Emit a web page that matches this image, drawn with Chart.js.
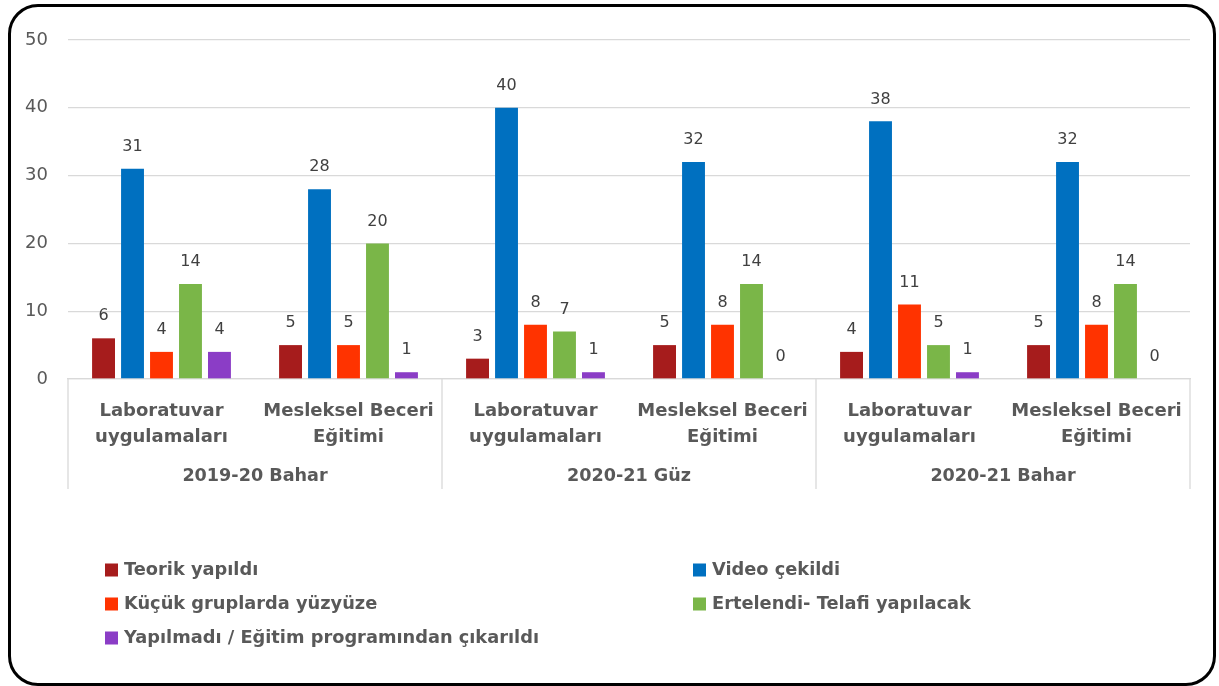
<!DOCTYPE html>
<html>
<head>
<meta charset="utf-8">
<script src="https://cdn.jsdelivr.net/npm/chart.js@4"></script>
<style>
    html, body { margin: 0; padding: 0; background: #fff; }
    #wrap { position: relative; width: 1219px; height: 686px; }
    #frame {
        position: absolute; left: 8px; top: 4px; width: 1208px; height: 682px;
        border: 3px solid #000; border-radius: 30px; box-sizing: border-box;
    }
    #chart { position: absolute; left: 0; top: 0; }
</style>
</head>
<body>
<div id="wrap">
    <div id="frame"></div>
    <canvas id="chart" width="1219" height="686"></canvas>
</div>
<script>
const categories = [
    ["Laboratuvar", "uygulamaları"], ["Mesleksel Beceri", "Eğitimi"],
    ["Laboratuvar", "uygulamaları"], ["Mesleksel Beceri", "Eğitimi"],
    ["Laboratuvar", "uygulamaları"], ["Mesleksel Beceri", "Eğitimi"],
];
const terms = ["2019-20 Bahar", "2020-21 Güz", "2020-21 Bahar"];
const seriesNames = [
    "Teorik yapıldı",
    "Video çekildi",
    "Küçük gruplarda yüzyüze",
    "Ertelendi- Telafi yapılacak",
    "Yapılmadı / Eğitim programından çıkarıldı",
];
const teorik = [6, 5, 3, 5, 4, 5];
const video = [31, 28, 40, 32, 38, 32];
const kucuk = [4, 5, 8, 8, 11, 8];
const ertelendi = [14, 20, 7, 14, 5, 14];
const yapilmadi = [4, 1, 1, 0, 1, 0];
const yTicks = [0, 10, 20, 30, 40, 50];

const colors = ["#a61c1c", "#0070c0", "#ff3300", "#7ab648", "#8b3dc6"];
const FONT = "'DejaVu Sans', sans-serif";
const TEXT = "#595959";

const valueLabels = {
    id: "valueLabels",
    afterDatasetsDraw(chart) {
        const ctx = chart.ctx;
        ctx.save();
        ctx.font = "16px " + FONT;
        ctx.fillStyle = "#404040";
        ctx.textAlign = "center";
        ctx.textBaseline = "middle";
        chart.data.datasets.forEach((ds, i) => {
            chart.getDatasetMeta(i).data.forEach((bar, j) => {
                ctx.fillText(String(ds.data[j]), bar.x, bar.y - 22);
            });
        });
        ctx.restore();
    },
};

const termAxis = {
    id: "termAxis",
    afterDraw(chart) {
        const ctx = chart.ctx;
        const x = chart.scales.x;
        const top = chart.chartArea.bottom;
        const edges = [x.left];
        for (let g = 1; g < terms.length; g++) {
            const i = g * 2;
            edges.push((x.getPixelForValue(i - 1) + x.getPixelForValue(i)) / 2);
        }
        edges.push(x.right);
        ctx.save();
        ctx.strokeStyle = "#d9d9d9";
        ctx.lineWidth = 1.3;
        edges.forEach(e => {
            ctx.beginPath();
            ctx.moveTo(e, top);
            ctx.lineTo(e, 489);
            ctx.stroke();
        });
        ctx.font = "bold 17.6px " + FONT;
        ctx.fillStyle = TEXT;
        ctx.textAlign = "center";
        ctx.textBaseline = "middle";
        terms.forEach((t, g) => {
            ctx.fillText(t, (edges[g] + edges[g + 1]) / 2, 476);
        });
        ctx.restore();
    },
};

const legendGrid = {
    id: "legendGrid",
    afterDraw(chart) {
        const ctx = chart.ctx;
        const cols = [105, 693];
        const rows = [570, 604, 638];
        ctx.save();
        ctx.font = "bold 17.8px " + FONT;
        ctx.textBaseline = "middle";
        chart.data.datasets.forEach((ds, i) => {
            const px = cols[i % 2];
            const py = rows[Math.floor(i / 2)];
            ctx.fillStyle = ds.backgroundColor;
            ctx.fillRect(px, py - 6.5, 13, 13);
            ctx.fillStyle = TEXT;
            ctx.fillText(ds.label, px + 19, py);
        });
        ctx.restore();
    },
};

const seriesData = [teorik, video, kucuk, ertelendi, yapilmadi];

const data = {
    labels: categories,
    datasets: seriesNames.map((name, i) => ({
        label: name,
        data: seriesData[i],
        backgroundColor: colors[i],
        categoryPercentage: 0.775,
        barPercentage: 0.79,
    })),
};

const config = {
    type: "bar",
    data: data,
    options: {
        responsive: false,
        animation: false,
        layout: { padding: { left: 8, right: 29, top: 40, bottom: 187 } },
        plugins: {
            legend: { display: false },
            tooltip: { enabled: false },
        },
        scales: {
            x: {
                grid: { display: false },
                border: { color: "#d9d9d9", width: 1.3 },
                ticks: {
                    font: { family: FONT, size: 18, weight: "bold", lineHeight: 1.45 },
                    color: TEXT,
                    padding: 11,
                    maxRotation: 0,
                    autoSkip: false,
                },
                afterFit(s) { s.height = 120; },
            },
            y: {
                min: yTicks[0],
                max: yTicks[yTicks.length - 1],
                afterBuildTicks(s) { s.ticks = yTicks.map(v => ({ value: v })); },
                grid: { color: "#d9d9d9", lineWidth: 1.3, drawTicks: false },
                border: { display: false },
                ticks: {
                    font: { family: FONT, size: 18 },
                    color: TEXT,
                    padding: 20,
                },
                afterFit(s) { s.width = 60; },
            },
        },
    },
    plugins: [valueLabels, termAxis, legendGrid],
};

new Chart(document.getElementById("chart"), config);
</script>
</body>
</html>
